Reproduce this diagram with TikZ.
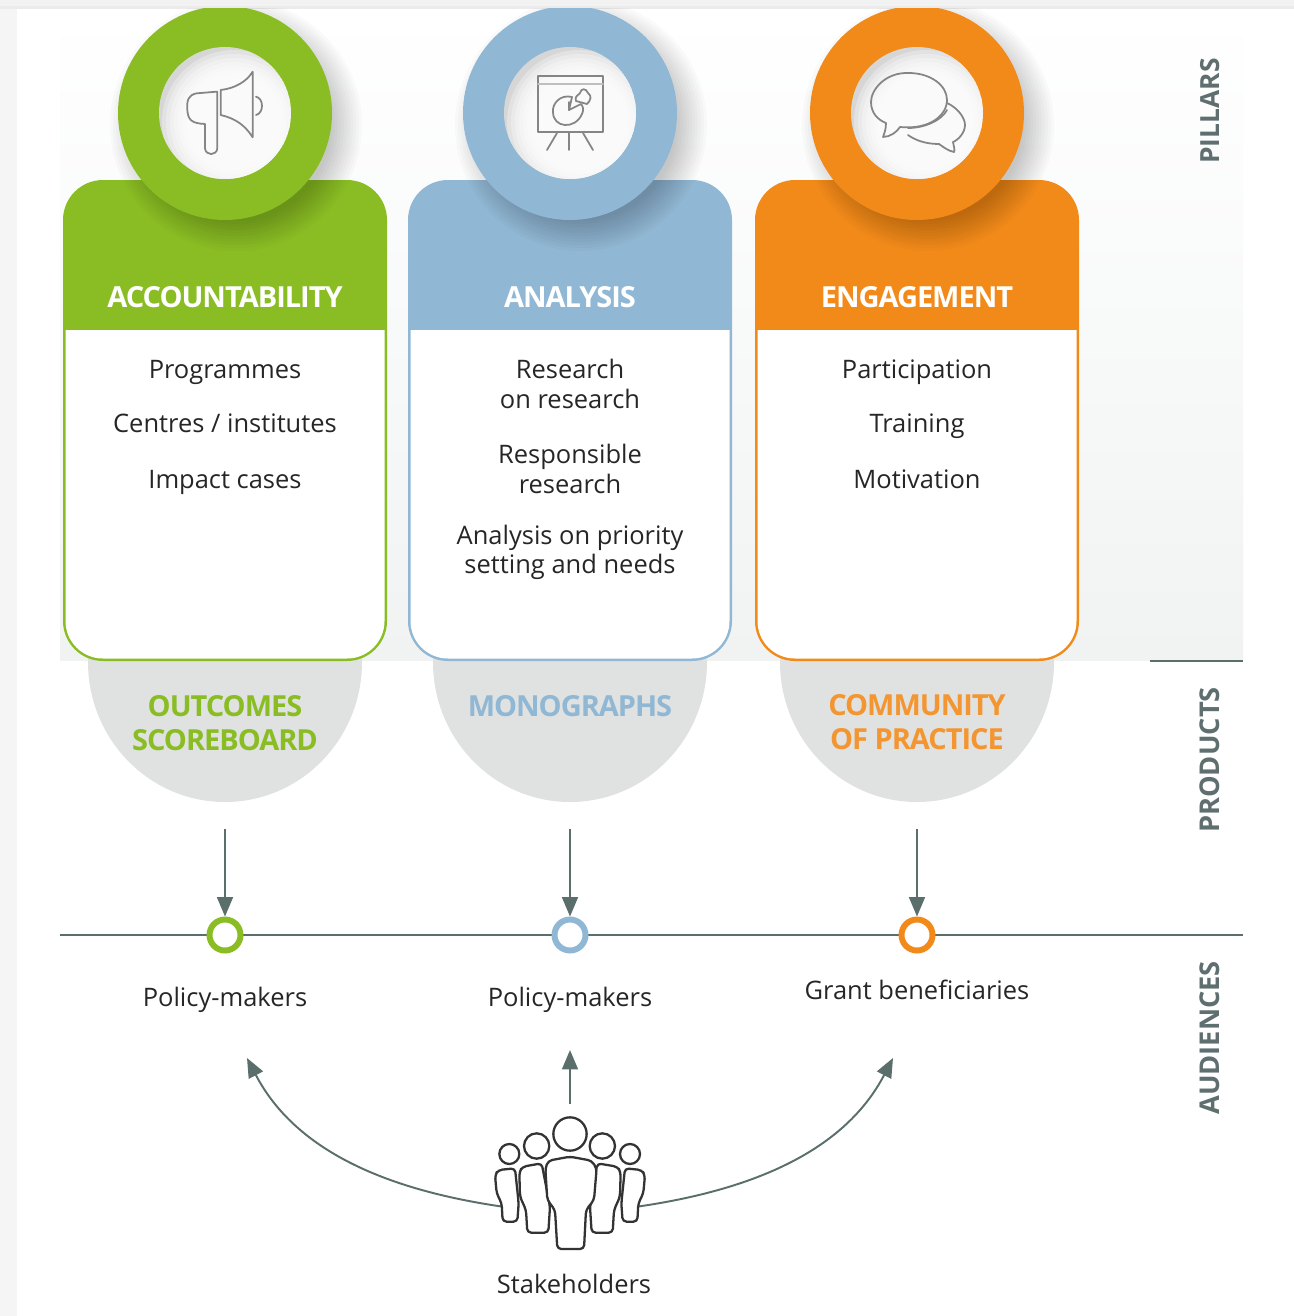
\documentclass[tikz,border=0pt]{standalone}
\usepackage{fontspec}
\setmainfont{Open Sans}
\usetikzlibrary{arrows.meta,calc}
\definecolor{cgreen}{HTML}{8ABD24}
\definecolor{cblue}{HTML}{90B7D3}
\definecolor{corange}{HTML}{F28A1A}
\definecolor{cslate}{HTML}{5A6E6B}
\definecolor{cside}{HTML}{5F6F70}
\definecolor{cgray}{HTML}{E0E2E2}
\definecolor{cicon}{HTML}{858585}
\definecolor{cpanel}{HTML}{F1F3F3}
\tikzset{
  x=.02cm,y=-.02cm,
  bodytext/.style={font=\fontsize{14.5}{16.6}\selectfont,align=center,text=black!85,inner sep=0pt},
  onetext/.style={font=\fontsize{14.5}{16.6}\selectfont,text=black!85,inner sep=0pt,anchor=base},
  headtext/.style={font=\fontsize{16.5}{18}\selectfont\bfseries\addfontfeature{LetterSpace=-3.5},text=white,inner sep=0pt},
  prodtext/.style={font=\fontsize{16.5}{19}\selectfont\bfseries\addfontfeature{LetterSpace=-3.5},align=center,inner sep=0pt},
  sidetext/.style={font=\fontsize{15.5}{18}\selectfont\bfseries,text=cside,rotate=90,inner sep=0pt},
  dotnode/.style={circle,draw=#1,fill=white,line width=3.4pt,minimum size=.62cm,inner sep=0pt},
  link/.style={draw=cslate,line width=1.1pt,-{Triangle[length=11pt,width=9pt]}},
  iconline/.style={draw=cicon,line width=1pt,line join=round,line cap=round},
  person/.style={draw=black!80,line width=1.3pt,fill=white,line join=round,rounded corners=2.2pt},
}
\newcommand{\pillar}[2]{%
  \fill[cgray] (#1-137,655) -- (#1+137,655) -- (#1+137,662) arc[start angle=0,end angle=180,x radius=137,y radius=140] -- cycle;
  \fill[#2,rounded corners=.8cm] (#1-162,661) -- (#1-162,180) -- (#1+162,180) -- (#1+162,661) -- cycle;
  \fill[white] (#1-159.5,330) -- (#1-159.5,450) [rounded corners=.75cm] -- (#1-159.5,658.5) -- (#1+159.5,658.5) [sharp corners] -- (#1+159.5,450) -- (#1+159.5,330) -- cycle;
  \begin{scope}
    \clip (0,8) rectangle (1294,1316);
    \foreach \r in {126,123,...,96} \fill[black,opacity=.018] (#1+11,125) circle[radius=\r];
    \fill[#2] (#1,113) circle[radius=107];
  \end{scope}
  \begin{scope}
    \clip (#1,113) circle[radius=66];
    \fill[black!16] (#1,113) circle[radius=66];
    \foreach \r in {48,52,...,72} \fill[white,opacity=.3] (#1+9,122) circle[radius=\r];
  \end{scope}
}
\begin{document}
\begin{tikzpicture}
\useasboundingbox (0,0) rectangle (1294,1316);
\fill[white] (0,0) rectangle (1294,1316);
\fill[black!4] (0,8) rectangle (17,1316);
\fill[black!5] (0,0) rectangle (1294,8);
\fill[black!8] (0,6) rectangle (1294,9);
\shade[top color=white,bottom color=cpanel] (60,9) rectangle (1243,660);

\pillar{225}{cgreen}
\pillar{570}{cblue}
\pillar{917}{corange}

% megaphone
\begin{scope}[shift={(60,0)},x=.00667cm,y=-.00667cm]
  \draw[iconline] (470,275) -- (410,280) .. controls (385,285) and (380,300) .. (382,330) .. controls (384,360) and (395,370) .. (435,372) -- (435,445) .. controls (437,468) and (470,468) .. (472,445) -- (472,275);
  \draw[iconline] (482,270) .. controls (525,265) and (560,245) .. (578,215) -- (578,412) .. controls (555,375) and (525,355) .. (482,345) -- cycle;
  \draw[iconline] (588,290) .. controls (612,295) and (612,340) .. (588,345);
\end{scope}
% easel
\draw[iconline] (538,76) rectangle (603,132);
\draw[iconline,draw=black!25] (538,84) -- (603,84);
\draw[iconline] (547,150) -- (557,133) (569,150) -- (569,133) (593,150) -- (583,133);
\draw[iconline] (572,97) .. controls (560,94) and (552,104) .. (553,112) .. controls (553,128) and (575,130) .. (582,114) .. controls (584,110) and (583,106) .. (581,104) -- (569,110) -- cycle;
\draw[iconline] (569,110) -- (569,102);
\draw[iconline] (576,101) .. controls (574,96) and (579,95) .. (580,93) .. controls (581,88) and (586,88) .. (588,93) .. controls (592,96) and (591,100) .. (587,104) -- cycle;
% speech bubbles
\draw[iconline] (909,73) .. controls (885,72) and (871,90) .. (871,102) .. controls (871,113) and (878,120) .. (886,123) .. controls (886,130) and (884,134) .. (883,137) .. controls (890,137) and (897,132) .. (900,127) .. controls (930,130) and (947,115) .. (947,100) .. controls (947,85) and (930,73) .. (909,73) -- cycle;
\draw[iconline] (947,103) .. controls (958,108) and (965,118) .. (965,125) .. controls (965,133) and (958,140) .. (953,142) .. controls (954,147) and (955,150) .. (954,152) .. controls (948,151) and (942,146) .. (939,144) .. controls (925,144) and (915,140) .. (908,135);
\draw[iconline] (908,128) .. controls (925,128) and (942,120) .. (947,110);

\node[headtext] (h1) at (225,297) {ACCOUNTABILITY};
\node[headtext] (h2) at (570,297) {ANALYSIS};
\node[headtext] (h3) at (917,297) {ENGAGEMENT};

\node[onetext] (a1) at (225,378) {Programmes};
\node[onetext] (a2) at (225,432) {Centres / institutes};
\node[onetext] (a3) at (225,488) {Impact cases};
\node[bodytext] (b1) at (570,384) {Research\\on research};
\node[bodytext] (b2) at (570,469) {Responsible\\research};
\node[bodytext] (b3) at (570,552) {Analysis on priority\\setting and needs};
\node[onetext] (c1) at (917,378) {Participation};
\node[onetext] (c2) at (917,432) {Training};
\node[onetext] (c3) at (917,488) {Motivation};

\node[prodtext,text=cgreen] (p1) at (225,723) {OUTCOMES\\SCOREBOARD};
\node[prodtext,text=cblue] (p2) at (570,706) {MONOGRAPHS};
\node[prodtext,text=corange!90!white] (p3) at (917,722) {COMMUNITY\\OF PRACTICE};

\draw[cslate,line width=.9pt] (1150,661) -- (1243,661);
\node[sidetext,font=\fontsize{15}{18}\selectfont\bfseries] (s1) at (1210,111) {PILLARS};
\node[sidetext] (s2) at (1210,760) {PRODUCTS};
\node[sidetext] (s3) at (1210,1038) {AUDIENCES};

\coordinate (la) at (60,935);
\coordinate (lb) at (1243,935);
\draw[cslate,line width=.9pt] (la) -- (lb);
\node[dotnode=cgreen] (d1) at (225,935) {};
\node[dotnode=cblue] (d2) at (570,935) {};
\node[dotnode=corange] (d3) at (917,935) {};
\coordinate (t1) at (225,829);
\coordinate (t2) at (570,829);
\coordinate (t3) at (917,829);
\draw[link] (t1) -- (d1);
\draw[link] (t2) -- (d2);
\draw[link] (t3) -- (d3);

\node[onetext] (l1) at (225,1006) {Policy-makers};
\node[onetext] (l2) at (570,1006) {Policy-makers};
\node[onetext] (l3) at (917,999) {Grant beneficiaries};

\coordinate (q1) at (247,1058);
\coordinate (q2) at (570,1050);
\coordinate (q3) at (893,1058);
\coordinate (o1) at (505,1207);
\coordinate (o2) at (570,1104);
\coordinate (o3) at (635,1207);
\draw[link] (o1) .. controls (385,1190) and (295,1150) .. (q1);
\draw[link] (o2) -- (q2);
\draw[link] (o3) .. controls (755,1190) and (845,1150) .. (q3);

% stakeholders
\begin{scope}[shift={(440,1040)},x=.00667cm,y=-.00667cm]
  \draw[person] (208,342) circle[radius=30];
  \draw[person] (570,342) circle[radius=30];
  \draw[person] (225,385) -- (175,390) -- (165,405) -- (170,460) -- (185,490) -- (188,545) -- (232,545) -- (236,490) -- cycle;
  \draw[person] (555,385) -- (605,390) -- (615,405) -- (610,460) -- (595,490) -- (592,545) -- (548,545) -- (544,490) -- cycle;
  \draw[person] (290,318) circle[radius=38];
  \draw[person] (487,318) circle[radius=38];
  \draw[person] (305,370) -- (248,380) -- (238,395) -- (240,470) -- (258,510) -- (262,578) -- (325,578) -- (330,500) -- cycle;
  \draw[person] (472,370) -- (532,380) -- (542,395) -- (540,470) -- (522,510) -- (518,578) -- (455,578) -- (450,500) -- cycle;
  \draw[person] (390,282) circle[radius=50];
  \draw[person] (390,350) -- (325,362) -- (316,385) -- (322,480) -- (345,510) -- (352,627) -- (432,627) -- (438,510) -- (462,480) -- (470,385) -- (455,362) -- cycle;
\end{scope}
\node[onetext] (st) at (574,1293) {Stakeholders};
\end{tikzpicture}
\end{document}
